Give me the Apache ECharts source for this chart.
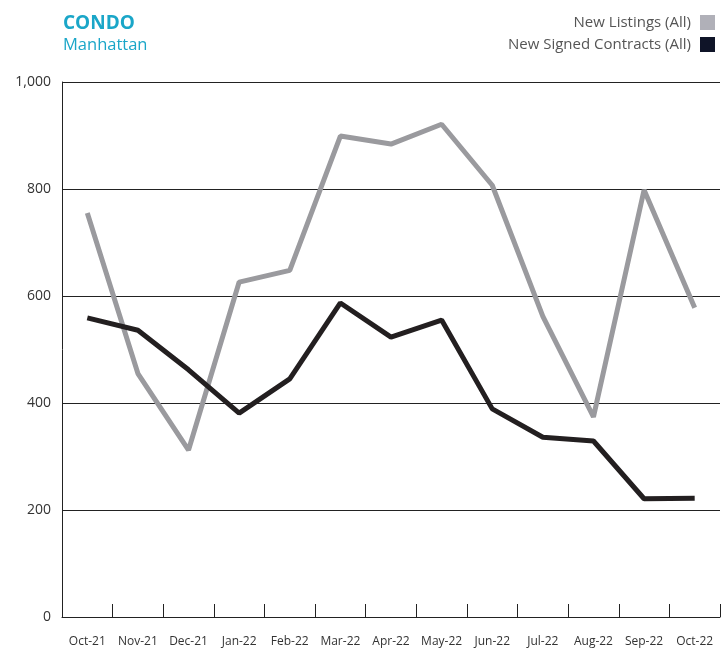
<!DOCTYPE html>
<html>
<head>
<meta charset="utf-8">
<script src="https://cdn.jsdelivr.net/npm/echarts@6/dist/echarts.min.js"></script>
<style>
html,body{margin:0;padding:0;background:#fff;}
#chart{width:726px;height:649px;}
</style>
</head>
<body>
<div id="chart"></div>
<script>
const categories = ['Oct-21','Nov-21','Dec-21','Jan-22','Feb-22','Mar-22','Apr-22','May-22','Jun-22','Jul-22','Aug-22','Sep-22','Oct-22'];
const newListings = [755, 455, 312, 626, 648, 899, 884, 921, 807, 562, 374, 798, 578];
const newSignedContracts = [559, 536, 462, 381, 445, 587, 523, 555, 389, 336, 329, 221, 222];
const yTicks = [0, 200, 400, 600, 800, 1000];

const chart = echarts.init(document.getElementById('chart'));
const font = '"Open Sans", "Noto Sans", sans-serif';
chart.setOption({
  animation: false,
  backgroundColor: '#ffffff',
  title: {
    text: 'CONDO',
    subtext: 'Manhattan',
    left: 58,
    top: 9,
    itemGap: 4,
    textStyle: {color: '#1aa6c8', fontSize: 19, fontWeight: 'bold', fontFamily: font},
    subtextStyle: {color: '#1aa6c8', fontSize: 16.5, fontFamily: font}
  },
  legend: {
    orient: 'vertical',
    right: 6,
    top: 10,
    align: 'right',
    itemGap: 7,
    itemWidth: 15,
    itemHeight: 15,
    icon: 'rect',
    textStyle: {color: '#555', fontSize: 15, fontFamily: font, padding: [0, 4, 0, 0]},
    data: [
      {name: 'New Listings (All)', itemStyle: {color: '#b0b0b8'}},
      {name: 'New Signed Contracts (All)', itemStyle: {color: '#0f1428'}}
    ]
  },
  grid: {left: 62, right: 6, top: 82, bottom: 32, containLabel: false},
  xAxis: {
    type: 'category',
    data: categories,
    boundaryGap: true,
    axisLine: {show: true, lineStyle: {color: '#222', width: 1}},
    axisTick: {show: true, inside: true, length: 13, lineStyle: {color: '#222'}, alignWithLabel: false},
    axisLabel: {color: '#333', fontSize: 12, fontFamily: font, margin: 19, interval: 0}
  },
  yAxis: {
    type: 'value',
    min: yTicks[0],
    max: yTicks[yTicks.length - 1],
    interval: 200,
    axisLine: {show: true, lineStyle: {color: '#222', width: 1}},
    axisTick: {show: false},
    splitLine: {show: true, lineStyle: {color: '#222', width: 1}},
    axisLabel: {
      color: '#333', fontSize: 14, fontFamily: font, margin: 11,
      formatter: v => v.toLocaleString('en-US')
    }
  },
  series: [
    {
      name: 'New Listings (All)',
      type: 'line',
      data: newListings,
      symbol: 'none',
      lineStyle: {color: '#9a9a9e', width: 5},
      itemStyle: {color: '#b0b0b8'},
      z: 2
    },
    {
      name: 'New Signed Contracts (All)',
      type: 'line',
      data: newSignedContracts,
      symbol: 'none',
      lineStyle: {color: '#231f20', width: 5},
      itemStyle: {color: '#0f1428'},
      z: 3
    }
  ]
});
</script>
</body>
</html>
